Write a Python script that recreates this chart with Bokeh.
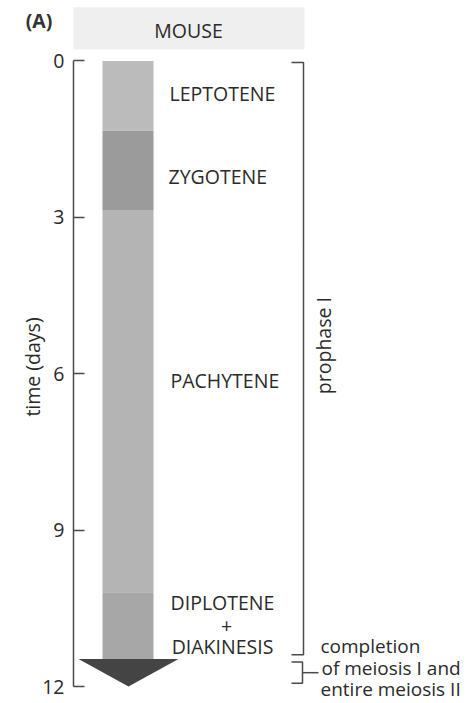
import math
from bokeh.plotting import figure
from bokeh.models import Range1d, FixedTicker
from bokeh.embed import file_html
from bokeh.resources import INLINE
from bokeh.core.properties import value

# ---------------- data ----------------
stages = ["LEPTOTENE", "ZYGOTENE", "PACHYTENE", "DIPLOTENE + DIAKINESIS"]
stage_start = [0.0, 1.34, 2.86, 10.19]       # days
stage_end = [1.34, 2.86, 10.19, 11.47]       # days
completion_start = 11.47                      # meiosis I completion + meiosis II
completion_end = 12.0
time_ticks = [0, 3, 6, 9, 12]
prophase_span = [0.03, 11.39]
completion_span = [11.53, 11.94]
organism = "MOUSE"
panel = "(A)"
completion_lines = ["completion", "of meiosis I and", "entire meiosis II"]

# ---------------- styles / layout ----------------
FONT = "Open Sans"
TXT = "#2a2a2a"
LINE = "#4a4a4a"
stage_colors = ["#bbbbbb", "#9b9b9b", "#b4b4b4", "#a7a7a7"]
arrow_color = "#444444"
bar_left, bar_right = 102, 153
arrow_left, arrow_right, arrow_tip = 78, 178, 128
brk_in, brk_x = 291, 303
FS = "19.5px"

p = figure(width=474, height=703, output_backend="svg", toolbar_location=None,
           x_range=Range1d(73, 474), y_range=Range1d(12.3261, -0.5851),
           x_axis_location=None, min_border_left=73, min_border_right=0,
           min_border_top=30, min_border_bottom=0)
p.outline_line_color = None
p.xgrid.visible = False
p.ygrid.visible = False

ax = p.yaxis[0]
ax.ticker = FixedTicker(ticks=time_ticks)
ax.bounds = (0, 12)
ax.major_tick_in = 11
ax.major_tick_out = 0
ax.minor_tick_in = 0
ax.minor_tick_out = 0
ax.axis_line_color = LINE
ax.axis_line_width = 1.5
ax.major_tick_line_color = LINE
ax.major_tick_line_width = 1.5
ax.major_label_text_font = FONT
ax.major_label_text_font_size = FS
ax.major_label_text_color = TXT
ax.major_label_standoff = 9
ax.axis_label = "time (days)"
ax.axis_label_text_font = FONT
ax.axis_label_text_font_size = FS
ax.axis_label_text_font_style = "normal"
ax.axis_label_text_color = TXT
ax.axis_label_standoff = -7

# header box (above the plotting frame)
p.quad(left=[73], right=[304], top=[-1.03], bottom=[-0.22], color="#efefef",
       line_color=None, level="overlay")
p.text(x=[188], y=[-0.585], text=[organism], text_align="center", text_baseline="middle",
       text_font=value(FONT), text_font_size=FS, text_color=TXT, level="overlay")

# stage bar
p.quad(left=bar_left, right=bar_right, top=stage_start, bottom=stage_end,
       fill_color=stage_colors, line_color=None)
# arrow head
p.patch(x=[arrow_left, arrow_right, arrow_tip],
        y=[completion_start, completion_start, completion_end],
        fill_color=arrow_color, line_color=None)

# stage labels
common = dict(text_font=value(FONT), text_font_size=FS, text_color=TXT, text_baseline="middle")
p.text(x=[169, 168, 170], y=[0.63, 2.21, 6.13], text=stages[:3], text_align="left", **common)
p.text(x=[222, 226, 222], y=[10.39, 10.83, 11.23], text=["DIPLOTENE", "+", "DIAKINESIS"],
       text_align="center", **common)

# brackets
p.line(x=[brk_in, brk_x, brk_x, brk_in],
       y=[prophase_span[0], prophase_span[0], prophase_span[1], prophase_span[1]],
       line_color=LINE, line_width=1.5)
p.line(x=[brk_in, brk_x - 1, brk_x - 1, brk_in],
       y=[completion_span[0], completion_span[0], completion_span[1], completion_span[1]],
       line_color=LINE, line_width=1.5)
mid = (completion_span[0] + completion_span[1]) / 2
p.line(x=[brk_x - 1, 318], y=[mid, mid], line_color=LINE, line_width=1.5)

p.text(x=[323], y=[5.46], text=["prophase I"], angle=math.pi / 2, text_align="center",
       **common)
p.text(x=[320, 321, 320], y=[11.223, 11.636, 12.048], text=completion_lines,
       text_align="left", text_font=value(FONT), text_font_size="19px", text_color=TXT,
       text_baseline="middle")

# panel letter (outside the frame)
p.text(x=[38.5], y=[-0.777], text=[panel], text_align="center", text_baseline="middle",
       text_font=value(FONT), text_font_size="19.5px", text_font_style="bold",
       text_color="#333333", level="overlay")

open("out.html", "w").write(file_html(p, INLINE))
